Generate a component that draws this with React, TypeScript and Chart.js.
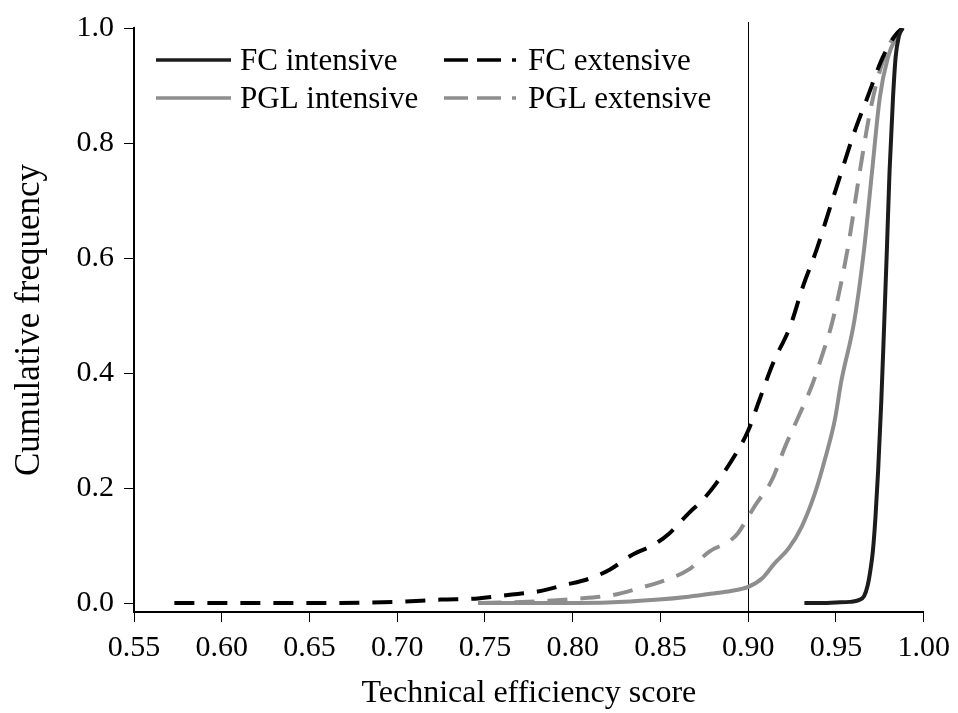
import React, { useEffect, useRef } from "react";
import { Chart, registerables } from "chart.js";

Chart.register(...registerables);

// ---- data ----
const seriesLabels = ["FC intensive", "FC extensive", "PGL intensive", "PGL extensive"];

const fcIntX = [0.932, 0.94, 0.95, 0.958, 0.963, 0.966, 0.968, 0.9695, 0.971, 0.9725, 0.974, 0.9758, 0.9774, 0.979, 0.9805, 0.9825, 0.984, 0.9858, 0.988];
const fcIntY = [0, 0, 0.001, 0.002, 0.005, 0.012, 0.03, 0.055, 0.09, 0.15, 0.23, 0.35, 0.48, 0.615, 0.75, 0.88, 0.95, 0.985, 1.0];

const fcExtX = [0.573, 0.6, 0.65, 0.7, 0.725, 0.746, 0.763, 0.78, 0.795, 0.81, 0.821, 0.834, 0.846, 0.855, 0.866, 0.874, 0.881, 0.891, 0.9, 0.906, 0.914, 0.924, 0.931, 0.939, 0.946, 0.953, 0.96, 0.968, 0.9765, 0.984, 0.988];
const fcExtY = [0, 0, 0, 0.002, 0.006, 0.008, 0.014, 0.02, 0.031, 0.043, 0.058, 0.084, 0.101, 0.121, 0.156, 0.179, 0.205, 0.25, 0.3, 0.35, 0.416, 0.482, 0.549, 0.615, 0.682, 0.749, 0.815, 0.88, 0.948, 0.988, 1.0];

const pglIntX = [0.746, 0.78, 0.82, 0.849, 0.866, 0.881, 0.89, 0.9, 0.908, 0.915, 0.923, 0.9305, 0.938, 0.9437, 0.9493, 0.9531, 0.9604, 0.966, 0.9705, 0.975, 0.9795, 0.9845, 0.988];
const pglIntY = [0, 0, 0.001, 0.006, 0.011, 0.017, 0.021, 0.028, 0.043, 0.069, 0.095, 0.133, 0.191, 0.25, 0.318, 0.387, 0.49, 0.615, 0.749, 0.88, 0.948, 0.985, 1.0];

const pglExtX = [0.748, 0.78, 0.8, 0.823, 0.838, 0.853, 0.866, 0.878, 0.889, 0.894, 0.9, 0.904, 0.9135, 0.921, 0.9286, 0.936, 0.942, 0.948, 0.9566, 0.9635, 0.969, 0.974, 0.981, 0.988];
const pglExtY = [0, 0.003, 0.007, 0.014, 0.026, 0.04, 0.058, 0.09, 0.107, 0.121, 0.15, 0.17, 0.214, 0.272, 0.324, 0.376, 0.43, 0.49, 0.615, 0.749, 0.848, 0.915, 0.975, 1.0];

const xTickValues = [0.55, 0.6, 0.65, 0.7, 0.75, 0.8, 0.85, 0.9, 0.95, 1.0];
const yTickValues = [0, 0.2, 0.4, 0.6, 0.8, 1.0];
const refLineX = 0.9;

const xTitle = "Technical efficiency score";
const yTitle = "Cumulative frequency";

// ---- styles ----
const FONT = "'Liberation Serif', 'Times New Roman', serif";
const BLACK = "#000000";
const DARK = "#1c1c1c";
const GRAY = "#8e8e8e";
const DASH = [20, 13];

const pts = (xs: number[], ys: number[]) => xs.map((x, i) => ({ x, y: ys[i] }));

const legendPlugin = {
  id: "customLegend",
  afterDraw(chart: any) {
    const ctx = chart.ctx;
    const cols = [156, 444];
    const rows = [60, 98];
    const sampleLen = 75;
    ctx.save();
    chart.data.datasets.forEach((ds: any, i: number) => {
      const cx = cols[i % 2];
      const cy = rows[Math.floor(i / 2)];
      ctx.beginPath();
      ctx.strokeStyle = ds.borderColor;
      ctx.lineWidth = 3.5;
      ctx.setLineDash(ds.borderDash && ds.borderDash.length ? [24, 9, 24, 11, 4, 200] : []);
      ctx.moveTo(cx, cy);
      ctx.lineTo(cx + sampleLen, cy);
      ctx.stroke();
      ctx.setLineDash([]);
      ctx.fillStyle = BLACK;
      ctx.font = `31px ${FONT}`;
      ctx.textAlign = "left";
      ctx.textBaseline = "alphabetic";
      ctx.fillText(ds.label, cx + sampleLen + 9, cy + 10);
    });
    ctx.restore();
  },
};

const refLinePlugin = {
  id: "refLine",
  beforeDatasetsDraw(chart: any) {
    const { ctx, chartArea } = chart;
    const x = chart.scales.x.getPixelForValue(refLineX);
    ctx.save();
    ctx.beginPath();
    ctx.strokeStyle = BLACK;
    ctx.lineWidth = 1;
    ctx.moveTo(Math.round(x) + 0.5, chartArea.top - 6);
    ctx.lineTo(Math.round(x) + 0.5, chartArea.bottom);
    ctx.stroke();
    ctx.restore();
  },
};

export default function App() {
  const ref = useRef<HTMLCanvasElement | null>(null);

  useEffect(() => {
    if (!ref.current) return;
    Chart.defaults.font.family = FONT;
    Chart.defaults.color = BLACK;
    const common = {
      pointRadius: 0,
      pointHoverRadius: 0,
      cubicInterpolationMode: "monotone",
      borderWidth: 4,
      fill: false,
    };
    const chart = new Chart(ref.current, {
      type: "line",
      data: {
        datasets: [
          { ...common, label: seriesLabels[0], data: pts(fcIntX, fcIntY), borderColor: DARK, borderDash: [] },
          { ...common, label: seriesLabels[1], data: pts(fcExtX, fcExtY), borderColor: BLACK, borderDash: DASH },
          { ...common, label: seriesLabels[2], data: pts(pglIntX, pglIntY), borderColor: GRAY, borderDash: [] },
          { ...common, label: seriesLabels[3], data: pts(pglExtX, pglExtY), borderColor: GRAY, borderDash: DASH },
        ],
      },
      options: {
        animation: false,
        responsive: false,
        maintainAspectRatio: false,
        layout: { padding: { top: 27, right: 28, bottom: 0, left: 0 } },
        plugins: { legend: { display: false }, tooltip: { enabled: false } },
        elements: { line: { clip: false } as any },
        scales: {
          x: {
            type: "linear",
            min: 0.55,
            max: 1.0,
            afterFit: (s: any) => {
              s.height = 101;
            },
            afterBuildTicks: (s: any) => {
              s.ticks = xTickValues.map((v) => ({ value: v }));
            },
            ticks: {
              callback: (v: any) => Number(v).toFixed(2),
              font: { size: 30, family: FONT },
              color: BLACK,
              padding: 8,
              maxRotation: 0,
              autoSkip: false,
            },
            grid: { drawOnChartArea: false, drawTicks: true, tickLength: 10, color: BLACK, lineWidth: 1 },
            border: { display: true, color: BLACK, width: 2 },
            title: { display: true, text: xTitle, font: { size: 32, family: FONT }, color: BLACK, padding: { top: 0, bottom: 0 } },
          },
          y: {
            type: "linear",
            min: -0.0156,
            max: 1.0,
            afterFit: (s: any) => {
              s.width = 134;
            },
            afterBuildTicks: (s: any) => {
              s.ticks = yTickValues.map((v) => ({ value: v }));
            },
            ticks: {
              callback: (v: any) => Number(v).toFixed(1),
              font: { size: 30, family: FONT },
              color: BLACK,
              padding: 10,
            },
            grid: { drawOnChartArea: false, drawTicks: true, tickLength: 10, color: BLACK, lineWidth: 1 },
            border: { display: true, color: BLACK, width: 2 },
            title: { display: true, text: yTitle, font: { size: 35, family: FONT }, color: BLACK, padding: { top: 9, bottom: 0 } },
          },
        },
      },
      plugins: [legendPlugin, refLinePlugin],
    } as any);
    return () => chart.destroy();
  }, []);

  return (
    <div style={{ position: "fixed", left: 0, top: 0, width: 958, height: 713, background: "#fff" }}>
      <canvas ref={ref} width={958} height={713} style={{ width: 958, height: 713, display: "block" }} />
    </div>
  );
}
